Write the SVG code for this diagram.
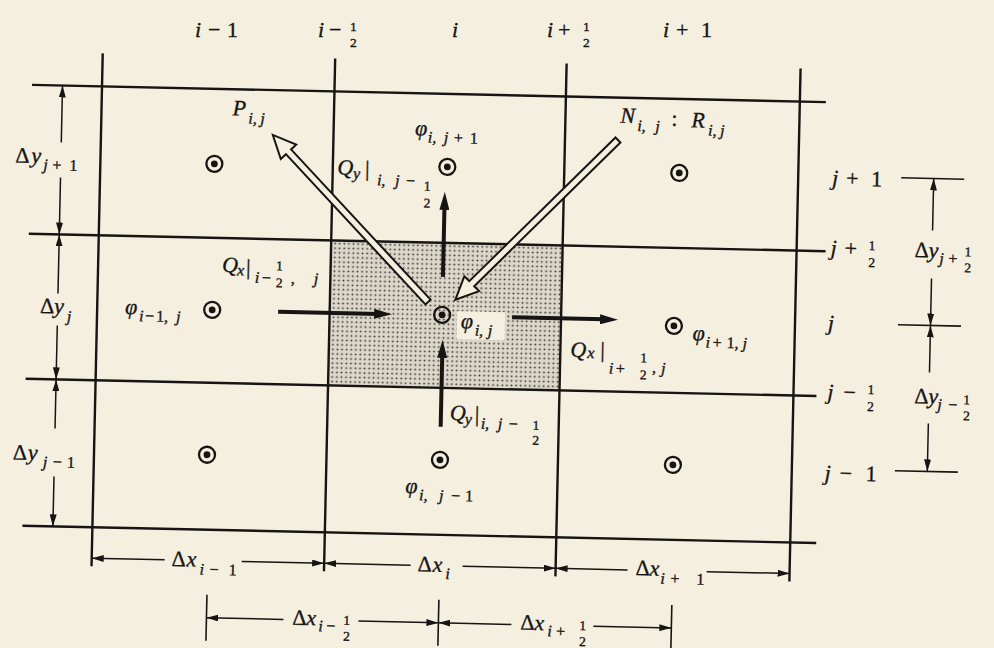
<svg xmlns="http://www.w3.org/2000/svg" xmlns:xlink="http://www.w3.org/1999/xlink" width="994" height="648" viewBox="0 0 994 648">
<style>
.t{font-family:"Liberation Serif","Times New Roman",serif;fill:#161513;stroke:#161513;stroke-width:0.35}
.it{font-style:italic}
.m{font-size:22px}
.s{font-size:16px}
.f{font-size:13.5px}
.g{stroke:#161513;stroke-width:2.4;fill:none}
.d{stroke:#161513;stroke-width:1.5;fill:none;marker-end:url(#da)}
.q{stroke:#161513;stroke-width:4;fill:none;marker-end:url(#fa)}
.tk{stroke:#161513;stroke-width:1.6}
.ring{fill:none;stroke:#161513;stroke-width:2.3}
.dot{fill:#161513}
.ho{fill:#f5efe0;stroke:#161513;stroke-width:2}
</style>
<defs>
<pattern id="dots" width="4.6" height="4.6" patternUnits="userSpaceOnUse">
<rect width="4.6" height="4.6" fill="#ddd7ca"/>
<circle cx="2.3" cy="2.3" r="0.95" fill="#3a3834"/>
</pattern>
<marker id="fa" viewBox="0 0 18 10" refX="4" refY="5" markerWidth="18" markerHeight="10" markerUnits="userSpaceOnUse" orient="auto">
<path d="M0,0 L18,5 L0,10 Z" fill="#161513"/>
</marker>
<marker id="da" viewBox="0 0 12 7" refX="12" refY="3.5" markerWidth="12" markerHeight="7" markerUnits="userSpaceOnUse" orient="auto">
<path d="M0,0 L12,3.5 L0,7 Z" fill="#161513"/>
</marker>
<path id="hollow" d="M0,-3.5 H205 V-10.5 L228,0 L205,10.5 V3.5 H0 Z"/>
</defs>
<rect width="994" height="648" fill="#f5efe0"/>

<g id="column-labels" class="t m">
<text><tspan class="it" x="195" y="37">i</tspan><tspan x="208" y="37">−</tspan><tspan x="227" y="37">1</tspan></text>
<text><tspan class="it" x="318" y="37">i</tspan><tspan x="329" y="37">−</tspan><tspan class="f" x="350" y="31">1</tspan><tspan class="f" x="350" y="47">2</tspan></text>
<text><tspan class="it" x="452" y="37">i</tspan></text>
<text><tspan class="it" x="547" y="37">i</tspan><tspan x="558" y="37">+</tspan><tspan class="f" x="583" y="31">1</tspan><tspan class="f" x="583" y="47">2</tspan></text>
<text><tspan class="it" x="663" y="37">i</tspan><tspan x="676" y="37">+</tspan><tspan x="701" y="37">1</tspan></text>
</g>

<g id="diagram" transform="rotate(1.25 450 320)">
<rect id="control-volume" x="329.5" y="243" width="231.5" height="145" fill="url(#dots)"/>
<rect x="457" y="311" width="48" height="28" fill="#f5efe0"/>

<g id="grid" class="g">
<line x1="27" y1="94" x2="821" y2="94"/>
<line x1="27" y1="243" x2="824" y2="243"/>
<line x1="27" y1="388" x2="818" y2="388"/>
<line x1="27" y1="535" x2="821" y2="535"/>
<line x1="97" y1="61" x2="97" y2="574"/>
<line x1="329.5" y1="61" x2="329.5" y2="574"/>
<line x1="561" y1="61" x2="561" y2="574"/>
<line x1="795" y1="61" x2="795" y2="574"/>
</g>

<g id="connectors">
<line class="q" x1="278" y1="315.5" x2="378" y2="315.5"/>
<line class="q" x1="512" y1="316" x2="604" y2="316"/>
<line class="q" x1="442" y1="277" x2="442" y2="206"/>
<line class="q" x1="443" y1="427" x2="443" y2="354"/>
<use xlink:href="#hollow" class="ho" transform="translate(427.6,302.5) rotate(225.87)"/>
<use xlink:href="#hollow" class="ho" transform="translate(614,136.4) rotate(134.26)"/>
<line class="d" x1="57.5" y1="151" x2="57.5" y2="94"/>
<line class="d" x1="57.5" y1="186" x2="57.5" y2="243"/>
<line class="d" x1="57.5" y1="302" x2="57.5" y2="243"/>
<line class="d" x1="57.5" y1="334" x2="57.5" y2="388"/>
<line class="d" x1="57.5" y1="437" x2="57.5" y2="388"/>
<line class="d" x1="57.5" y1="485" x2="57.5" y2="535"/>
<line class="tk" x1="898" y1="168" x2="961" y2="168"/>
<line class="tk" x1="898" y1="315" x2="961" y2="315"/>
<line class="tk" x1="898" y1="461" x2="961" y2="461"/>
<line class="d" x1="930.5" y1="220" x2="930.5" y2="168"/>
<line class="d" x1="930.5" y1="268" x2="930.5" y2="315"/>
<line class="d" x1="930.5" y1="362" x2="930.5" y2="315"/>
<line class="d" x1="930.5" y1="413" x2="930.5" y2="461"/>
<line class="d" x1="170" y1="566" x2="97" y2="566"/>
<line class="d" x1="247" y1="566" x2="329.5" y2="566"/>
<line class="d" x1="416" y1="566" x2="329.5" y2="566"/>
<line class="d" x1="468" y1="566" x2="561" y2="566"/>
<line class="d" x1="633" y1="566" x2="561" y2="566"/>
<line class="d" x1="712" y1="566" x2="795" y2="566"/>
<line class="tk" x1="213" y1="600" x2="213" y2="646"/>
<line class="tk" x1="445" y1="600" x2="445" y2="646"/>
<line class="tk" x1="678" y1="600" x2="678" y2="646"/>
<line class="d" x1="290" y1="623" x2="213" y2="623"/>
<line class="d" x1="365" y1="623" x2="445" y2="623"/>
<line class="d" x1="518" y1="623" x2="445" y2="623"/>
<line class="d" x1="600" y1="623" x2="678" y2="623"/>
</g>

<g id="connector-labels" class="t m">
<text><tspan class="it" x="228" y="120">P</tspan><tspan class="it s" x="244" y="128">i,</tspan><tspan class="it s" x="256" y="128">j</tspan></text>
<text><tspan class="it" x="616" y="119">N</tspan><tspan class="it s" x="633" y="127">i,</tspan><tspan class="it s" x="651" y="127">j</tspan><tspan x="667" y="121">:</tspan><tspan class="it" x="687" y="122">R</tspan><tspan class="it s" x="704" y="130">i,</tspan><tspan class="it s" x="716" y="130">j</tspan></text>
<text><tspan class="it" x="334" y="177">Q</tspan><tspan class="it s" x="350" y="181">y</tspan><tspan x="362" y="178">|</tspan><tspan class="it s" x="374" y="187">i,</tspan><tspan class="it s" x="392" y="187">j</tspan><tspan class="s" x="403" y="187">−</tspan><tspan class="f" x="421" y="191">1</tspan><tspan class="f" x="421" y="208">2</tspan></text>
<text><tspan class="it" x="221" y="277">Q</tspan><tspan class="it s" x="236" y="280">x</tspan><tspan x="245" y="279">|</tspan><tspan class="it s" x="254" y="287">i</tspan><tspan class="s" x="261" y="287">−</tspan><tspan class="f" x="275" y="274">1</tspan><tspan class="f" x="275" y="291">2</tspan><tspan class="s" x="290" y="287">,</tspan><tspan class="it s" x="313" y="287">j</tspan></text>
<text><tspan class="it" x="571" y="354">Q</tspan><tspan class="it s" x="588" y="355">x</tspan><tspan x="601" y="354">|</tspan><tspan class="it s" x="610" y="370">i</tspan><tspan class="s" x="617" y="370">+</tspan><tspan class="f" x="641" y="358">1</tspan><tspan class="f" x="641" y="375">2</tspan><tspan class="s" x="653" y="368">,</tspan><tspan class="it s" x="662" y="369">j</tspan></text>
<text><tspan class="it" x="452" y="420">Q</tspan><tspan class="it s" x="467" y="424">y</tspan><tspan x="477" y="421">|</tspan><tspan class="it s" x="483" y="428">i,</tspan><tspan class="it s" x="500" y="428">j</tspan><tspan class="s" x="511" y="428">−</tspan><tspan class="f" x="535" y="428">1</tspan><tspan class="f" x="535" y="443">2</tspan></text>
</g>

<g id="dimension-labels" class="t m">
<text><tspan x="12" y="172">Δ</tspan><tspan class="it" x="28" y="172">y</tspan><tspan class="it s" x="40" y="179">j</tspan><tspan class="s" x="49" y="179">+</tspan><tspan class="s" x="66" y="179">1</tspan></text>
<text><tspan x="40" y="322">Δ</tspan><tspan class="it" x="54" y="322">y</tspan><tspan class="it s" x="67" y="330">j</tspan></text>
<text><tspan x="16" y="469">Δ</tspan><tspan class="it" x="31" y="469">y</tspan><tspan class="it s" x="46" y="476">j</tspan><tspan class="s" x="56" y="476">−</tspan><tspan class="s" x="70" y="476">1</tspan></text>
<text><tspan class="it" x="829" y="177">j</tspan><tspan x="843" y="177">+</tspan><tspan x="868" y="177">1</tspan></text>
<text><tspan class="it" x="829" y="247">j</tspan><tspan x="843" y="247">+</tspan><tspan class="f" x="867" y="241">1</tspan><tspan class="f" x="867" y="258">2</tspan></text>
<text><tspan class="it" x="828" y="322">j</tspan></text>
<text><tspan class="it" x="829" y="391">j</tspan><tspan x="845" y="391">−</tspan><tspan class="f" x="869" y="385">1</tspan><tspan class="f" x="869" y="402">2</tspan></text>
<text><tspan class="it" x="828" y="472">j</tspan><tspan x="843" y="472">−</tspan><tspan x="869" y="472">1</tspan></text>
<text><tspan x="913" y="247">Δ</tspan><tspan class="it" x="927" y="247">y</tspan><tspan class="it s" x="938" y="253">j</tspan><tspan class="s" x="947" y="253">+</tspan><tspan class="f" x="963" y="245">1</tspan><tspan class="f" x="963" y="261">2</tspan></text>
<text><tspan x="916" y="393">Δ</tspan><tspan class="it" x="930" y="393">y</tspan><tspan class="it s" x="939" y="399">j</tspan><tspan class="s" x="950" y="399">−</tspan><tspan class="f" x="965" y="393">1</tspan><tspan class="f" x="965" y="409">2</tspan></text>
<text><tspan x="177" y="572">Δ</tspan><tspan class="it" x="192" y="572">x</tspan><tspan class="it s" x="205" y="580">i</tspan><tspan class="s" x="215" y="580">−</tspan><tspan class="s" x="234" y="580">1</tspan></text>
<text><tspan x="423" y="572">Δ</tspan><tspan class="it" x="438" y="572">x</tspan><tspan class="it s" x="451" y="579">i</tspan></text>
<text><tspan x="641" y="571">Δ</tspan><tspan class="it" x="655" y="571">x</tspan><tspan class="it s" x="666" y="579">i</tspan><tspan class="s" x="676" y="579">+</tspan><tspan class="s" x="702" y="579">1</tspan></text>
<text><tspan x="299" y="628">Δ</tspan><tspan class="it" x="313" y="628">x</tspan><tspan class="it s" x="325" y="634">i</tspan><tspan class="s" x="333" y="634">−</tspan><tspan class="f" x="350" y="627">1</tspan><tspan class="f" x="350" y="643">2</tspan></text>
<text><tspan x="527" y="628">Δ</tspan><tspan class="it" x="541" y="628">x</tspan><tspan class="it s" x="554" y="634">i</tspan><tspan class="s" x="563" y="634">+</tspan><tspan class="f" x="586" y="627">1</tspan><tspan class="f" x="586" y="643">2</tspan></text>
</g>

<g id="node-im1-jp1"><circle class="ring" cx="211" cy="169" r="8"/><circle class="dot" cx="211" cy="169" r="3.4"/></g>
<g id="node-i-jp1"><circle class="ring" cx="444" cy="167" r="8"/><circle class="dot" cx="444" cy="167" r="3.4"/>
<text class="t m"><tspan class="it" x="411" y="136">φ</tspan><tspan class="it s" x="424" y="143">i,</tspan><tspan class="it s" x="440" y="143">j</tspan><tspan class="s" x="450" y="143">+</tspan><tspan class="s" x="466" y="143">1</tspan></text></g>
<g id="node-ip1-jp1"><circle class="ring" cx="676" cy="168" r="8"/><circle class="dot" cx="676" cy="168" r="3.4"/></g>
<g id="node-im1-j"><circle class="ring" cx="212" cy="315" r="8"/><circle class="dot" cx="212" cy="315" r="3.4"/>
<text class="t m"><tspan class="it" x="125" y="321">φ</tspan><tspan class="it s" x="139" y="328">i</tspan><tspan class="s" x="145" y="328">−</tspan><tspan class="s" x="156" y="328">1</tspan><tspan class="s" x="164" y="328">,</tspan><tspan class="it s" x="176" y="328">j</tspan></text></g>
<g id="node-i-j"><circle class="ring" cx="442" cy="315" r="8"/><circle class="dot" cx="442" cy="315" r="3.4"/>
<text class="t m"><tspan class="it" x="461" y="328">φ</tspan><tspan class="it s" x="475" y="335">i,</tspan><tspan class="it s" x="488" y="335">j</tspan></text></g>
<g id="node-ip1-j"><circle class="ring" cx="674" cy="321" r="8"/><circle class="dot" cx="674" cy="321" r="3.4"/>
<text class="t m"><tspan class="it" x="693" y="335">φ</tspan><tspan class="it s" x="706" y="342">i</tspan><tspan class="s" x="713" y="342">+</tspan><tspan class="s" x="727" y="342">1</tspan><tspan class="s" x="735" y="342">,</tspan><tspan class="it s" x="743" y="342">j</tspan></text></g>
<g id="node-im1-jm1"><circle class="ring" cx="210" cy="460" r="8"/><circle class="dot" cx="210" cy="460" r="3.4"/></g>
<g id="node-i-jm1"><circle class="ring" cx="443" cy="460" r="8"/><circle class="dot" cx="443" cy="460" r="3.4"/>
<text class="t m"><tspan class="it" x="409" y="494">φ</tspan><tspan class="it s" x="423" y="501">i,</tspan><tspan class="it s" x="443" y="501">j</tspan><tspan class="s" x="455" y="501">−</tspan><tspan class="s" x="469" y="501">1</tspan></text></g>
<g id="node-ip1-jm1"><circle class="ring" cx="676" cy="460" r="8"/><circle class="dot" cx="676" cy="460" r="3.4"/></g>
</g>
</svg>
